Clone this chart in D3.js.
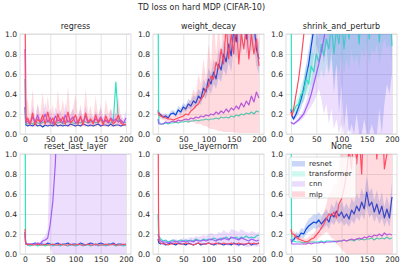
<!DOCTYPE html>
<html>
<head>
<meta charset="utf-8">
<script src="https://cdn.jsdelivr.net/npm/d3@7"></script>
<style>
body { margin: 0; background: #fff; }
text { font-family: "DejaVu Sans", sans-serif; fill: #262626; }
</style>
</head>
<body>
<svg id="chart" width="403" height="270"></svg>
<script>
// x positions of the samples (epochs)
var steps = [0, 1, 2].concat(d3.range(5, 201, 5));
var panelNames = ["regress", "weight_decay", "shrink_and_perturb", "reset_last_layer", "use_layernorm", "None"];
var models = ["resnet", "transformer", "cnn", "mlp"];
var colors = ["#0846dc", "#30e3c0", "#a45cf6", "#ff4a62"];
var yTicks = [0, 0.2, 0.4, 0.6, 0.8, 1.0];
var xTicks = [0, 50, 100, 150, 200];

// ---- regress
var regressResnet = [0.27,0.12,0.09,
 0.08,0.09,0.08,0.10,0.08,0.09,0.07,0.09,0.08,0.09,
 0.08,0.10,0.08,0.09,0.08,0.09,0.08,0.10,0.09,0.08,
 0.09,0.08,0.10,0.09,0.08,0.09,0.08,0.09,0.10,0.08,
 0.09,0.09,0.08,0.10,0.08,0.09,0.09,0.08,0.09,0.09];
var regressTransformer = [0.55,0.15,0.10,
 0.10,0.11,0.10,0.12,0.11,0.10,0.12,0.11,0.13,0.11,
 0.10,0.12,0.11,0.12,0.10,0.11,0.13,0.12,0.11,0.10,
 0.12,0.11,0.13,0.12,0.11,0.12,0.13,0.11,0.12,0.14,
 0.12,0.13,0.12,0.11,0.13,0.52,0.13,0.12,0.11,0.12];
var regressCnn = [0.85,0.20,0.11,
 0.13,0.10,0.17,0.12,0.19,0.11,0.14,0.20,0.12,0.16,
 0.10,0.18,0.13,0.15,0.11,0.19,0.12,0.14,0.17,0.11,
 0.13,0.16,0.12,0.18,0.11,0.14,0.12,0.15,0.13,0.17,
 0.12,0.14,0.11,0.16,0.13,0.15,0.12,0.14,0.11,0.16];
var regressMlp = [1.15,0.70,0.12,
 0.16,0.10,0.21,0.09,0.15,0.12,0.19,0.10,0.22,0.11,
 0.16,0.09,0.20,0.12,0.17,0.10,0.22,0.11,0.14,0.19,
 0.10,0.18,0.09,0.21,0.12,0.15,0.10,0.19,0.11,0.16,
 0.09,0.18,0.12,0.15,0.10,0.13,0.19,0.11,0.09,0.10];
var regressCnnLo = [0.70,0.15,0.09,
 0.10,0.08,0.12,0.09,0.13,0.09,0.10,0.14,0.09,0.11,
 0.08,0.12,0.10,0.11,0.09,0.13,0.09,0.10,0.12,0.09,
 0.10,0.11,0.09,0.12,0.09,0.10,0.09,0.11,0.10,0.12,
 0.09,0.10,0.09,0.11,0.10,0.11,0.09,0.10,0.09,0.11];
var regressCnnHi = [1.00,0.30,0.15,
 0.18,0.14,0.28,0.16,0.30,0.15,0.20,0.32,0.17,0.25,
 0.14,0.27,0.20,0.24,0.15,0.31,0.17,0.20,0.26,0.15,
 0.19,0.25,0.17,0.28,0.15,0.20,0.17,0.23,0.19,0.26,
 0.17,0.21,0.15,0.25,0.19,0.22,0.17,0.20,0.15,0.24];
var regressMlpLo = [0.90,0.40,0.08,
 0.08,0.07,0.08,0.07,0.08,0.07,0.08,0.07,0.08,0.07,
 0.08,0.07,0.08,0.07,0.08,0.07,0.08,0.07,0.08,0.07,
 0.08,0.07,0.08,0.07,0.08,0.07,0.08,0.07,0.08,0.07,
 0.08,0.07,0.08,0.07,0.08,0.07,0.08,0.07,0.08,0.07];
var regressMlpHi = [1.30,1.00,0.30,
 0.35,0.15,0.45,0.12,0.30,0.20,0.42,0.15,0.38,0.18,
 0.30,0.12,0.44,0.20,0.35,0.15,0.48,0.18,0.25,0.40,
 0.15,0.30,0.12,0.45,0.20,0.28,0.14,0.38,0.16,0.30,
 0.12,0.35,0.20,0.26,0.14,0.22,0.38,0.16,0.12,0.13];

// ---- weight_decay
var wdResnet = [0.24,0.22,0.21,
 0.19,0.17,0.18,0.16,0.20,0.21,0.19,0.24,0.22,0.27,
 0.25,0.30,0.28,0.33,0.31,0.38,0.35,0.46,0.42,0.55,
 0.50,0.62,0.55,0.70,0.64,0.80,0.72,0.90,0.78,1.05,
 0.92,1.20,1.00,1.30,0.95,1.20,1.00,1.10,0.85,0.75];
var wdTransformer = [1.60,0.25,0.12,
 0.10,0.10,0.11,0.10,0.11,0.11,0.12,0.11,0.12,0.12,
 0.13,0.12,0.13,0.13,0.14,0.13,0.14,0.14,0.15,0.14,
 0.15,0.15,0.16,0.15,0.17,0.16,0.17,0.16,0.18,0.17,
 0.19,0.18,0.20,0.19,0.21,0.20,0.22,0.20,0.23,0.22];
var wdCnn = [0.15,0.11,0.10,
 0.10,0.10,0.12,0.11,0.12,0.13,0.12,0.14,0.13,0.14,
 0.15,0.14,0.16,0.15,0.17,0.16,0.18,0.17,0.19,0.18,
 0.20,0.19,0.22,0.20,0.23,0.21,0.25,0.22,0.26,0.24,
 0.28,0.25,0.31,0.27,0.33,0.29,0.38,0.32,0.42,0.36];
var wdMlp = [0.22,0.20,0.19,
 0.18,0.17,0.16,0.15,0.15,0.14,0.15,0.16,0.17,0.18,
 0.20,0.19,0.23,0.25,0.28,0.30,0.35,0.38,0.45,0.48,
 0.58,0.55,0.72,0.65,0.85,0.70,1.10,0.75,1.00,0.80,
 1.20,0.70,1.00,0.85,1.10,0.75,1.00,0.80,0.95,0.68];
var wdResnetLo = [0.22,0.20,0.19,
 0.17,0.15,0.16,0.14,0.18,0.19,0.17,0.21,0.19,0.24,
 0.22,0.26,0.24,0.28,0.26,0.32,0.29,0.38,0.35,0.45,
 0.40,0.50,0.45,0.56,0.52,0.65,0.58,0.72,0.62,0.85,
 0.75,0.95,0.80,1.05,0.78,0.95,0.82,0.88,0.68,0.60];
var wdResnetHi = [0.26,0.24,0.23,
 0.21,0.19,0.21,0.19,0.23,0.24,0.22,0.28,0.26,0.31,
 0.29,0.35,0.33,0.39,0.37,0.45,0.42,0.55,0.50,0.66,
 0.60,0.75,0.66,0.85,0.76,0.95,0.85,1.10,0.92,1.25,
 1.10,1.40,1.20,1.50,1.10,1.40,1.15,1.30,1.00,0.90];
var wdMlpLo = [0.20,0.18,0.17,
 0.15,0.14,0.13,0.12,0.12,0.11,0.11,0.11,0.12,0.12,
 0.12,0.11,0.12,0.12,0.10,0.10,0.10,0.08,0.08,0.06,
 0.05,0.05,0.04,0.03,0.03,0.02,0.02,0.02,0.02,0.02,
 0.01,0.01,0.01,0.01,0.01,0.01,0.01,0.01,0.01,0.01];
var wdMlpHi = [0.25,0.23,0.22,
 0.21,0.20,0.19,0.18,0.18,0.18,0.19,0.20,0.22,0.25,
 0.28,0.30,0.35,0.45,0.40,0.60,0.50,0.75,0.55,0.90,
 0.70,1.20,0.80,1.10,0.85,1.40,0.90,1.20,0.95,1.30,
 0.90,1.60,1.00,1.20,0.95,1.50,1.00,1.30,1.10,0.95];

// ---- shrink_and_perturb
var spResnet = [0.25,0.20,0.18,
 0.15,0.20,0.27,0.35,0.45,0.58,0.70,0.88,1.05,1.30,
 1.50,1.60,1.70,1.60,1.80,1.70,1.60,1.80,1.70,1.60,
 1.80,1.70,1.60,1.80,1.70,1.60,1.80,1.70,1.60,1.80,
 1.70,1.60,1.80,1.70,1.60,1.80,1.70,1.60,1.80,1.70];
var spTransformer = [1.60,0.25,0.24,
 0.22,0.28,0.30,0.40,0.42,0.55,0.50,0.68,0.62,0.80,
 0.72,0.90,0.78,0.95,0.85,1.10,0.80,1.05,0.90,1.20,
 0.85,1.10,0.95,1.30,1.00,1.20,0.90,1.30,1.10,1.40,
 0.95,1.30,1.20,1.40,0.92,1.30,1.50,1.30,1.40,0.88];
var spCnn = [0.12,0.11,0.11,
 0.10,0.12,0.14,0.17,0.20,0.26,0.32,0.40,0.50,0.60,
 0.70,0.82,0.95,1.10,1.30,1.50,1.60,1.70,1.60,1.80,
 1.70,1.60,1.80,1.70,1.60,1.80,1.70,1.60,1.80,1.70,
 1.60,1.80,1.70,1.60,1.80,1.70,1.60,1.80,1.70,1.60];
var spMlp = [0.22,0.20,0.18,
 0.25,0.40,0.55,0.75,0.98,1.25,1.50,1.70,1.60,1.80,
 1.70,1.60,1.80,1.70,1.60,1.80,1.70,1.60,1.80,1.70,
 1.60,1.80,1.70,1.60,1.80,1.70,1.60,1.80,1.70,1.60,
 1.80,1.70,1.60,1.80,1.70,1.60,1.80,1.70,1.60,1.80];
var spResnetLo = [0.23,0.18,0.16,
 0.13,0.16,0.20,0.26,0.33,0.42,0.50,0.60,0.75,0.90,
 0.80,0.95,0.70,0.90,0.60,0.85,0.40,0.70,0.20,0.50,
 0.05,0.30,0.00,0.10,0.00,0.20,0.00,0.00,0.15,0.00,
 0.00,0.10,0.00,0.00,0.25,0.00,0.30,0.50,0.40,0.60];
var spResnetHi = [0.28,0.22,0.20,
 0.18,0.24,0.30,0.40,0.55,0.70,0.85,1.00,1.20,1.50,
 1.60,1.60,1.60,1.60,1.60,1.60,1.60,1.60,1.60,1.60,
 1.60,1.60,1.60,1.60,1.60,1.60,1.60,1.60,1.60,1.60,
 1.60,1.60,1.60,1.60,1.60,1.60,1.60,1.60,1.60,1.60];
var spTransformerLo = [0.30,0.22,0.21,
 0.19,0.22,0.24,0.30,0.32,0.40,0.38,0.50,0.45,0.60,
 0.55,0.65,0.55,0.70,0.60,0.75,0.55,0.70,0.60,0.80,
 0.60,0.75,0.65,0.85,0.70,0.80,0.65,0.85,0.75,0.90,
 0.70,0.85,0.80,0.90,0.70,0.85,0.95,0.85,0.90,0.70];
var spTransformerHi = [1.70,0.30,0.28,
 0.26,0.34,0.38,0.50,0.55,0.70,0.65,0.85,0.80,1.00,
 0.95,1.20,1.00,1.30,1.10,1.50,1.10,1.40,1.20,1.60,
 1.20,1.50,1.30,1.60,1.40,1.60,1.30,1.60,1.50,1.70,
 1.30,1.60,1.60,1.70,1.30,1.60,1.80,1.60,1.70,1.20];
var spCnnLo = [0.11,0.10,0.10,
 0.09,0.10,0.12,0.14,0.16,0.20,0.24,0.28,0.32,0.38,
 0.45,0.35,0.20,0.30,0.10,0.25,0.05,0.15,0.00,0.10,
 0.00,0.00,0.05,0.00,0.00,0.00,0.00,0.00,0.00,0.00,
 0.00,0.00,0.00,0.00,0.00,0.00,0.00,0.00,0.00,0.00];
var spCnnHi = [0.13,0.12,0.12,
 0.11,0.14,0.17,0.20,0.25,0.33,0.42,0.55,0.70,0.90,
 1.60,1.60,1.60,1.60,1.60,1.60,1.60,1.60,1.60,1.60,
 1.60,1.60,1.60,1.60,1.60,1.60,1.60,1.60,1.60,1.60,
 1.60,1.60,1.60,1.60,1.60,1.60,1.60,1.60,1.60,1.60];

// ---- reset_last_layer
var rlResnet = [0.22,0.12,0.10,
 0.10,0.09,0.10,0.11,0.09,0.10,0.10,0.09,0.11,0.10,
 0.09,0.10,0.11,0.09,0.10,0.10,0.11,0.09,0.10,0.10,
 0.09,0.11,0.10,0.09,0.10,0.11,0.10,0.09,0.10,0.11,
 0.10,0.09,0.10,0.10,0.11,0.09,0.10,0.10,0.09,0.10];
var rlTransformer = [1.60,0.12,0.10,
 0.09,0.08,0.09,0.10,0.08,0.09,0.09,0.08,0.09,0.10,
 0.08,0.09,0.09,0.08,0.10,0.09,0.08,0.09,0.09,0.08,
 0.09,0.10,0.08,0.09,0.09,0.08,0.09,0.10,0.08,0.09,
 0.09,0.08,0.09,0.10,0.09,0.08,0.09,0.09,0.08,0.09];
var rlCnn = [0.20,0.12,0.10,
 0.10,0.10,0.10,0.10,0.11,0.10,0.13,0.14,0.16,0.30,
 0.52,0.90,1.60,1.70,1.60,1.80,1.70,1.60,1.80,1.70,
 1.60,1.80,1.70,1.60,1.80,1.70,1.60,1.80,1.70,1.60,
 1.80,1.70,1.60,1.80,1.70,1.60,1.80,1.70,1.60,1.80];
var rlMlp = [0.25,0.12,0.10,
 0.09,0.10,0.09,0.09,0.10,0.09,0.09,0.10,0.09,0.09,
 0.10,0.09,0.09,0.10,0.09,0.09,0.09,0.10,0.09,0.09,
 0.10,0.09,0.09,0.09,0.10,0.09,0.09,0.10,0.09,0.09,
 0.09,0.10,0.09,0.09,0.10,0.09,0.09,0.09,0.10,0.09];
var rlCnnLo = [0.18,0.10,0.09,
 0.09,0.09,0.09,0.09,0.10,0.09,0.11,0.11,0.12,0.06,
 0.00,0.00,0.00,0.00,0.00,0.00,0.00,0.00,0.00,0.00,
 0.00,0.00,0.00,0.00,0.00,0.00,0.00,0.00,0.00,0.00,
 0.00,0.00,0.00,0.00,0.00,0.00,0.00,0.00,0.00,0.00];
var rlCnnHi = [0.22,0.14,0.11,
 0.11,0.11,0.11,0.11,0.12,0.12,0.16,0.18,0.25,1.30,
 1.60,1.60,1.60,1.60,1.60,1.60,1.60,1.60,1.60,1.60,
 1.60,1.60,1.60,1.60,1.60,1.60,1.60,1.60,1.60,1.60,
 1.60,1.60,1.60,1.60,1.60,1.60,1.60,1.60,1.60,1.60];

// ---- use_layernorm
var lnResnet = [0.15,0.12,0.11,
 0.10,0.11,0.09,0.10,0.11,0.10,0.09,0.11,0.10,0.10,
 0.09,0.11,0.10,0.09,0.10,0.11,0.09,0.10,0.10,0.11,
 0.10,0.09,0.10,0.11,0.10,0.09,0.10,0.10,0.09,0.11,
 0.10,0.09,0.10,0.09,0.10,0.11,0.09,0.10,0.10,0.11];
var lnTransformer = [0.40,0.20,0.18,
 0.15,0.13,0.14,0.12,0.13,0.14,0.12,0.13,0.14,0.13,
 0.14,0.13,0.14,0.13,0.15,0.14,0.13,0.15,0.14,0.15,
 0.14,0.16,0.15,0.14,0.16,0.15,0.17,0.15,0.16,0.16,
 0.17,0.15,0.17,0.16,0.18,0.16,0.17,0.16,0.18,0.19];
var lnCnn = [0.20,0.17,0.15,
 0.13,0.12,0.12,0.11,0.12,0.12,0.13,0.12,0.12,0.13,
 0.12,0.13,0.13,0.12,0.14,0.13,0.13,0.14,0.13,0.14,
 0.15,0.14,0.13,0.15,0.14,0.16,0.15,0.14,0.17,0.16,
 0.15,0.14,0.16,0.15,0.14,0.13,0.15,0.14,0.13,0.14];
var lnMlp = [1.60,0.35,0.13,
 0.11,0.10,0.10,0.09,0.10,0.10,0.11,0.10,0.10,0.10,
 0.11,0.10,0.10,0.09,0.10,0.11,0.10,0.10,0.10,0.11,
 0.10,0.10,0.11,0.10,0.10,0.11,0.10,0.10,0.11,0.10,
 0.10,0.11,0.10,0.10,0.10,0.11,0.10,0.11,0.10,0.11];
var lnCnnLo = [0.17,0.14,0.12,
 0.11,0.10,0.10,0.09,0.10,0.10,0.11,0.10,0.10,0.11,
 0.10,0.11,0.10,0.09,0.11,0.10,0.10,0.10,0.09,0.10,
 0.10,0.09,0.08,0.10,0.09,0.10,0.09,0.08,0.10,0.09,
 0.08,0.07,0.09,0.08,0.07,0.07,0.08,0.08,0.07,0.08];
var lnCnnHi = [0.24,0.20,0.18,
 0.15,0.14,0.14,0.13,0.14,0.15,0.15,0.14,0.15,0.16,
 0.15,0.16,0.17,0.16,0.18,0.17,0.18,0.19,0.18,0.20,
 0.21,0.20,0.19,0.22,0.21,0.24,0.22,0.21,0.25,0.24,
 0.23,0.22,0.25,0.23,0.22,0.21,0.23,0.22,0.21,0.22];

// ---- None
var noneResnet = [0.12,0.12,0.13,
 0.14,0.18,0.17,0.21,0.20,0.25,0.28,0.30,0.32,0.31,
 0.34,0.30,0.33,0.36,0.32,0.40,0.37,0.43,0.38,0.42,
 0.36,0.40,0.35,0.44,0.40,0.48,0.43,0.52,0.45,0.62,
 0.48,0.52,0.42,0.50,0.40,0.48,0.36,0.45,0.36,0.57];
var noneTransformer = [1.60,0.20,0.15,
 0.13,0.12,0.12,0.12,0.11,0.12,0.12,0.12,0.12,0.12,
 0.12,0.13,0.12,0.13,0.13,0.13,0.12,0.13,0.13,0.13,
 0.14,0.13,0.14,0.14,0.13,0.15,0.14,0.15,0.14,0.15,
 0.15,0.16,0.14,0.16,0.15,0.16,0.15,0.17,0.15,0.16];
var noneCnn = [0.15,0.11,0.10,
 0.10,0.10,0.10,0.10,0.10,0.10,0.11,0.10,0.11,0.11,
 0.11,0.12,0.11,0.12,0.12,0.12,0.13,0.12,0.13,0.13,
 0.14,0.13,0.14,0.15,0.14,0.15,0.16,0.15,0.17,0.16,
 0.18,0.17,0.19,0.18,0.20,0.18,0.21,0.19,0.20,0.19];
var noneMlp = [0.25,0.22,0.20,
 0.20,0.17,0.15,0.14,0.13,0.12,0.13,0.15,0.16,0.19,
 0.22,0.26,0.30,0.35,0.40,0.38,0.42,0.36,0.50,0.55,
 0.65,0.80,1.05,0.85,1.30,0.90,1.20,0.80,1.50,1.30,
 1.10,1.50,1.40,0.95,1.60,1.50,0.85,1.00,1.60,1.40];
var noneResnetLo = [0.10,0.10,0.11,
 0.12,0.15,0.14,0.17,0.16,0.20,0.22,0.24,0.26,0.25,
 0.27,0.24,0.26,0.29,0.25,0.32,0.29,0.34,0.30,0.33,
 0.28,0.31,0.27,0.34,0.30,0.37,0.33,0.40,0.34,0.48,
 0.36,0.40,0.32,0.38,0.30,0.36,0.27,0.34,0.27,0.44];
var noneResnetHi = [0.14,0.14,0.15,
 0.17,0.22,0.21,0.26,0.25,0.31,0.35,0.37,0.40,0.39,
 0.42,0.38,0.41,0.45,0.40,0.50,0.46,0.54,0.48,0.53,
 0.46,0.51,0.45,0.56,0.51,0.61,0.55,0.66,0.58,0.78,
 0.62,0.66,0.54,0.64,0.52,0.62,0.47,0.58,0.47,0.72];
var noneMlpLo = [0.22,0.19,0.17,
 0.17,0.14,0.12,0.11,0.10,0.09,0.10,0.11,0.12,0.14,
 0.16,0.18,0.20,0.22,0.20,0.16,0.15,0.10,0.08,0.05,
 0.02,0.00,0.00,0.00,0.00,0.00,0.00,0.00,0.00,0.00,
 0.00,0.00,0.00,0.00,0.00,0.00,0.00,0.00,0.00,0.00];
var noneMlpHi = [0.28,0.25,0.23,
 0.23,0.20,0.18,0.17,0.16,0.15,0.17,0.19,0.21,0.25,
 0.30,0.36,0.42,0.50,0.60,0.62,0.70,0.70,0.90,1.10,
 1.40,1.60,1.70,1.60,1.70,1.60,1.70,1.60,1.70,1.60,
 1.70,1.60,1.70,1.60,1.70,1.60,1.70,1.60,1.70,1.60];

var lineData = [
    [regressResnet, regressTransformer, regressCnn, regressMlp],
    [wdResnet, wdTransformer, wdCnn, wdMlp],
    [spResnet, spTransformer, spCnn, spMlp],
    [rlResnet, rlTransformer, rlCnn, rlMlp],
    [lnResnet, lnTransformer, lnCnn, lnMlp],
    [noneResnet, noneTransformer, noneCnn, noneMlp]
];
// [panel, model, lo, hi]
var bandData = [
    [0, 2, regressCnnLo, regressCnnHi],
    [0, 3, regressMlpLo, regressMlpHi],
    [1, 0, wdResnetLo, wdResnetHi],
    [1, 3, wdMlpLo, wdMlpHi],
    [2, 0, spResnetLo, spResnetHi],
    [2, 1, spTransformerLo, spTransformerHi],
    [2, 2, spCnnLo, spCnnHi],
    [3, 2, rlCnnLo, rlCnnHi],
    [4, 2, lnCnnLo, lnCnnHi],
    [5, 0, noneResnetLo, noneResnetHi],
    [5, 3, noneMlpLo, noneMlpHi]
];

var svg = d3.select("#chart");
var colLeft = [20, 153, 286];
var rowTop = [34, 154];
var pw = 111, ph = 100;

var x = d3.scaleLinear().domain([-10, 210]).range([0, pw]);
var y = d3.scaleLinear().domain([0, 1]).range([ph, 0]);

svg.append("text")
    .attr("x", 201.5).attr("y", 10)
    .attr("text-anchor", "middle")
    .style("font-size", "8px")
    .text("TD loss on hard MDP (CIFAR-10)");

var line = d3.line()
    .x(function(d, i) { return x(steps[i]); })
    .y(function(d) { return y(d); });

var area = d3.area()
    .x(function(d) { return x(steps[d]); });

for (var p = 0; p < panelNames.length; p++) {
    var col = p % 3, row = Math.floor(p / 3);
    var g = svg.append("g")
        .attr("transform", "translate(" + colLeft[col] + "," + rowTop[row] + ")");

    g.append("clipPath").attr("id", "clip" + p)
        .append("rect").attr("width", pw).attr("height", ph);

    var yAxis = g.append("g")
        .call(d3.axisLeft(y).tickValues(yTicks).tickSize(-pw).tickPadding(3).tickFormat(d3.format(".1f")));
    var xAxis = g.append("g")
        .attr("transform", "translate(0," + ph + ")")
        .call(d3.axisBottom(x).tickValues(xTicks).tickSize(-ph).tickPadding(3));
    [yAxis, xAxis].forEach(function(a) {
        a.select(".domain").remove();
        a.selectAll(".tick line").attr("stroke", "#dedede").attr("stroke-width", 0.8);
        a.selectAll(".tick text").style("font-size", "7.6px").attr("fill", "#262626");
    });

    g.append("rect")
        .attr("width", pw).attr("height", ph)
        .attr("fill", "none").attr("stroke", "#d6d6d6").attr("stroke-width", 0.8);

    g.append("text")
        .attr("x", pw / 2).attr("y", -5)
        .attr("text-anchor", "middle")
        .style("font-size", "8px")
        .text(panelNames[p]);

    var plot = g.append("g").attr("clip-path", "url(#clip" + p + ")");

    for (var m = 0; m < models.length; m++) {
        for (var b = 0; b < bandData.length; b++) {
            if (bandData[b][0] == p && bandData[b][1] == m) {
                var lo = bandData[b][2], hi = bandData[b][3];
                plot.append("path")
                    .datum(d3.range(steps.length))
                    .attr("fill", colors[m])
                    .attr("fill-opacity", 0.2)
                    .attr("d", area.y0(function(i) { return y(lo[i]); }).y1(function(i) { return y(hi[i]); }));
            }
        }
        plot.append("path")
            .datum(lineData[p][m])
            .attr("fill", "none")
            .attr("stroke", colors[m])
            .attr("stroke-width", 1.2)
            .attr("stroke-linejoin", "round")
            .attr("d", line);
    }
}

// legend in the last panel
var legend = svg.append("g").attr("transform", "translate(289,157)");
legend.append("rect")
    .attr("width", 67).attr("height", 41).attr("rx", 2)
    .attr("fill", "#fff").attr("fill-opacity", 0.8)
    .attr("stroke", "#d6d6d6").attr("stroke-width", 0.8);
models.forEach(function(name, i) {
    var row = legend.append("g").attr("transform", "translate(0," + (4 + i * 10.1) + ")");
    row.append("rect")
        .attr("x", 3).attr("y", 0).attr("width", 13).attr("height", 5.5)
        .attr("fill", colors[i]).attr("fill-opacity", 0.22);
    row.append("text")
        .attr("x", 20).attr("y", 2.75).attr("dy", "0.35em")
        .style("font-size", "7.2px")
        .text(name);
});
</script>
</body>
</html>
